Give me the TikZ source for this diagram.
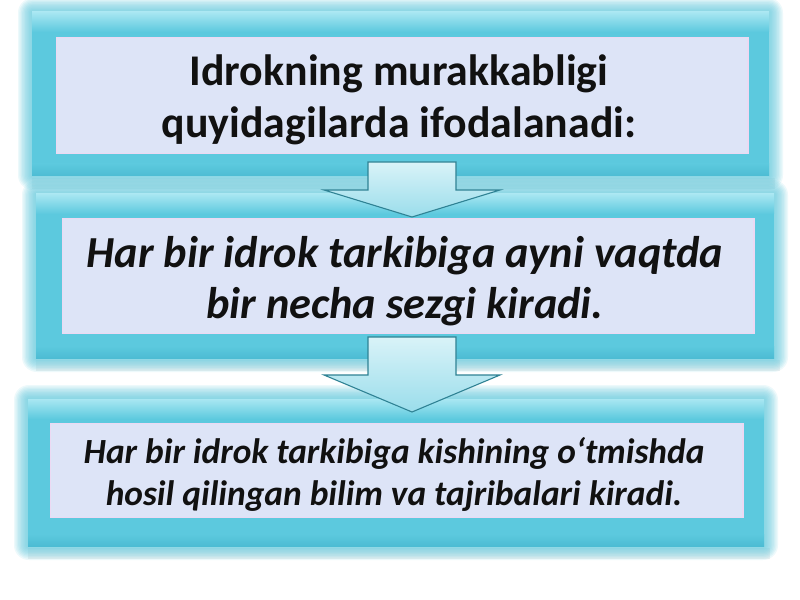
\documentclass[tikz,border=0pt]{standalone}
\usepackage{fontspec}
\setmainfont{Carlito}
\definecolor{cyanM}{HTML}{5CC9DE}
\definecolor{cyanL}{HTML}{A9E7F2}
\definecolor{cyanD}{HTML}{4DBCD3}
\definecolor{lav}{HTML}{DDE4F7}
\definecolor{lavEdge}{HTML}{ECD9F3}
\definecolor{arrTop}{HTML}{D9F3F8}
\definecolor{arrBot}{HTML}{9ADDEB}
\definecolor{arrLine}{HTML}{2F8294}
\definecolor{ink}{HTML}{111111}
\newcommand\myglowbox[4]{%
  \fill[black, opacity=0.05] (#1+4,#4-2) rectangle (#3+2,#4+9);
  \foreach \k in {10,9,...,1}
    \fill[cyanM, opacity=0.11, rounded corners=1.5*\k] (#1+4-1.4*\k,#2+4-1.4*\k) rectangle (#3-4+1.4*\k,#4-4+1.4*\k);
  \fill[cyanM] (#1+4,#2+4) rectangle (#3-4,#4-4);
  \shade[top color=cyanL, bottom color=cyanM] (#1+4,#2+4) rectangle (#3-4,#2+24);
  \shade[top color=cyanM, bottom color=cyanD] (#1+4,#4-16) rectangle (#3-4,#4-4);
}
\begin{document}
\begin{tikzpicture}[x=1bp,y=-1bp,
  inner/.style={draw=lavEdge, line width=1.2, fill=lav, inner sep=0, anchor=north west},
  blockarrow/.style={draw=arrLine, line width=1.1, top color=arrTop, bottom color=arrBot, line join=miter},
  txt/.style={text=ink, align=center, inner sep=0, anchor=base}]
\useasboundingbox (0,0) rectangle (800,600);
\fill[white] (0,0) rectangle (800,600);
% outer glow boxes
\myglowbox{28}{8}{773}{180}
\myglowbox{32}{190}{778}{362}
\myglowbox{24}{395}{768}{550}
% inner boxes
\node[inner, minimum width=694, minimum height=116] (in1) at (56,37) {};
\node[inner, minimum width=694, minimum height=115] (in2) at (62,218) {};
\node[inner, minimum width=695, minimum height=94] (in3) at (50,423) {};
% texts (base anchor = baseline of the last line)
\node[txt, font={\fontsize{44}{53}\selectfont\bfseries}] (t1) at (399,138)
  {Idrokning murakkabligi\\quyidagilarda ifodalanadi:};
\node[txt, font={\fontsize{44.5}{51}\selectfont\bfseries\itshape}] (t2) at (405,318)
  {Har bir idrok tarkibiga ayni vaqtda\\bir necha sezgi kiradi.};
\node[txt, font={\fontsize{35.5}{42}\selectfont\bfseries\itshape}] (t3) at (394,505)
  {Har bir idrok tarkibiga kishining o‘tmishda\\hosil qilingan bilim va tajribalari kiradi.};
% block arrows
\draw[blockarrow] (368,162) -- (456,162) -- (456,190) -- (500,190) -- (412,217) -- (324,190) -- (368,190) -- cycle;
\draw[blockarrow] (368,337) -- (456,337) -- (456,375) -- (500,375) -- (412,412) -- (324,375) -- (368,375) -- cycle;
\end{tikzpicture}
\end{document}
